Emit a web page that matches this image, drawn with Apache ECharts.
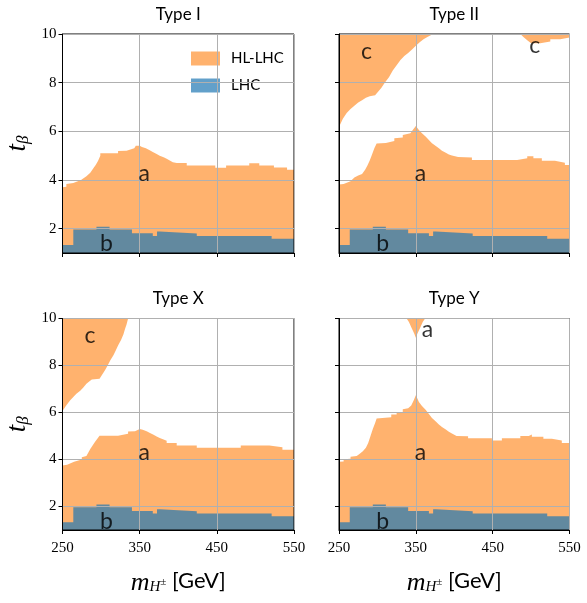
<!DOCTYPE html>
<html><head><meta charset="utf-8">
<script src="https://cdn.jsdelivr.net/npm/echarts@6/dist/echarts.min.js"></script>
<style>html,body{margin:0;padding:0;background:#fff}#c{width:587px;height:603px}</style>
</head><body><div id="c"></div>
<script>
// ---------- data ----------
const panelTitles = ['Type I', 'Type II', 'Type X', 'Type Y'];
const xTicks = [250, 350, 450, 550];
const yTicks = [2, 4, 6, 8, 10];
const legendNames = ['HL-LHC', 'LHC'];

// LHC (b) upper boundary, same in all panels
const lhcMass = [250,264,264,294,294,311,311,340,340,367,367,372.5,372.5,376,376,424,424,521,521,550];
const lhcTb   = [1.33,1.33,1.97,1.97,2.08,2.08,1.97,1.97,1.81,1.81,1.70,1.70,1.88,1.88,1.80,1.80,1.70,1.70,1.59,1.59];

// Type I, region a (HL-LHC), upper boundary
const t1aMass = [250,255,255,264,264,274,275,281,286,290,293,296,299,299,322,322,333,333,343,345,350,353,358,363,367,372,376,381,385,389,393,398,411,411,448,448,462,462,492,492,505,505,524,524,541,541,550];
const t1aTb   = [3.70,3.72,3.84,3.88,3.96,4.00,4.07,4.15,4.30,4.48,4.62,4.78,5.00,5.10,5.10,5.19,5.20,5.28,5.30,5.41,5.41,5.36,5.30,5.22,5.15,5.07,5.00,4.93,4.87,4.80,4.73,4.70,4.70,4.60,4.60,4.50,4.50,4.60,4.60,4.69,4.69,4.60,4.60,4.51,4.51,4.42,4.42];

// Type II, region a
const t2aMass = [250,256,256,265,270,275,280,284,287,290,293,296,299,311,311,322,322,333,333,343,346,350,354,358,363,367,371,376,380,384,389,393,397,405,423,423,482,482,495,495,503,503,514,514,531,531,544,544,550];
const t2aTb   = [3.82,3.84,3.92,3.95,4.10,4.18,4.25,4.42,4.60,4.80,5.05,5.30,5.50,5.52,5.58,5.60,5.72,5.75,5.85,5.92,6.05,6.22,6.05,5.92,5.78,5.64,5.51,5.40,5.30,5.20,5.12,5.05,5.01,4.95,4.92,4.82,4.82,4.89,4.89,4.98,4.98,4.89,4.89,4.79,4.79,4.71,4.71,4.62,4.62];
// Type II, region c (left, above the curve)
const t2cMass = [250,255,260,265,270,275,280,285,290,297,300,305,310,315,320,325,330,335,340,345,350,355,360,365,370,373];
const t2cTb   = [6.18,6.52,6.75,6.92,7.05,7.18,7.28,7.38,7.44,7.48,7.60,7.78,8.02,8.22,8.50,8.72,8.93,9.10,9.22,9.36,9.52,9.66,9.78,9.88,9.96,10.0];
// Type II, region c (right, above the curve)
const t2c2Mass = [486,490,495,500,512,512,525,525,538,538,550];
const t2c2Tb   = [10.0,9.88,9.74,9.62,9.62,9.69,9.69,9.78,9.78,9.86,9.86];

// Type X, region a
const tXaMass = [250,256,256,265,265,275,275,281,286,292,298,322,322,335,335,344,344,350,354,359,364,368,372,376,381,385,385,398,398,424,424,481,481,518,518,535,535,550];
const tXaTb   = [3.75,3.78,3.86,3.90,3.95,4.00,4.10,4.15,4.45,4.74,5.01,5.01,5.08,5.10,5.19,5.20,5.28,5.30,5.27,5.20,5.12,5.05,4.98,4.92,4.85,4.80,4.70,4.70,4.60,4.60,4.50,4.50,4.60,4.60,4.52,4.52,4.42,4.42];
// Type X, region c
const tXcMass = [250,255,260,264,268,273,277,281,285,288,298,300,303,306,309,312,316,319,322,326,329,331,333,335];
const tXcTb   = [6.06,6.31,6.52,6.66,6.80,6.93,7.06,7.22,7.33,7.40,7.44,7.52,7.69,7.85,8.03,8.22,8.44,8.64,8.85,9.10,9.33,9.55,9.74,10.0];

// Type Y, region a (main)
const tYaMass = [250,256,256,265,265,273,277,281,285,288,291,294,297,299,299,318,318,325,325,333,333,340,344,347,350,352,354,358,363,367,371,376,380,384,389,393,397,403,418,418,449,449,462,462,486,486,497,498,501,501,516,516,527,527,540,540,550];
const tYaTb   = [3.90,3.92,4.01,4.03,4.12,4.15,4.25,4.35,4.50,4.70,5.00,5.30,5.55,5.75,5.80,5.80,5.91,5.91,6.00,6.02,6.14,6.18,6.30,6.50,6.73,6.60,6.45,6.28,6.11,5.94,5.77,5.62,5.49,5.38,5.28,5.18,5.11,5.00,4.99,4.90,4.90,4.81,4.81,4.90,4.90,5.00,5.00,5.08,5.06,4.97,4.97,4.88,4.88,4.81,4.81,4.70,4.70];
// Type Y, region a (top wedge, above the curve)
const tYa2Mass = [338,341,344.5,348,350,352,355.5,359,362];
const tYa2Tb   = [10.0,9.85,9.60,9.35,9.18,9.35,9.60,9.85,10.0];

// region labels: [mass, tan beta, text]
const labelsI  = [[350, 4.0, 'a'], [300, 1.1, 'b']];
const labelsII = [[350, 4.0, 'a'], [300, 1.1, 'b'], [280, 9.0, 'c'], [499, 9.27, 'c']];
const labelsX  = [[350, 4.0, 'a'], [300, 1.1, 'b'], [280, 9.0, 'c']];
const labelsY  = [[350, 4.0, 'a'], [300, 1.1, 'b'], [359, 9.25, 'a']];

// ---------- styling ----------
const ORANGE = 'rgba(255,127,14,0.6)';
const BLUE = 'rgba(31,119,180,0.7)';
const NARROW = "Lato,'Liberation Sans Narrow',sans-serif";
const SERIF = "'Liberation Serif','DejaVu Serif',serif";

const grids = [
  {left: 62.5, top: 34, width: 231.5, height: 219},
  {left: 339, top: 34, width: 230.5, height: 219},
  {left: 62.5, top: 318.5, width: 231.5, height: 219},
  {left: 339, top: 318.5, width: 230.5, height: 219}
];

function zip(m, t) { return m.map((v, i) => [v, t[i]]); }

function areaSeries(g, name, mass, tb, color, origin) {
  return {
    type: 'line', name: name, xAxisIndex: g, yAxisIndex: g,
    data: zip(mass, tb), showSymbol: false, symbol: 'none',
    lineStyle: {width: 0, opacity: 0},
    itemStyle: {color: color},
    areaStyle: {color: color, opacity: 1, origin: origin},
    z: 2, silent: true
  };
}
function labelSeries(g, arr) {
  return {
    type: 'scatter', xAxisIndex: g, yAxisIndex: g, symbolSize: 0.1,
    itemStyle: {color: 'rgba(0,0,0,0)'}, z: 20, silent: true,
    data: arr,
    label: {show: true, position: [0, 0], align: 'left', verticalAlign: 'bottom', offset: [-1, 5],
      formatter: p => p.value[2], fontFamily: NARROW, fontSize: 23, color: '#000'}
  };
}

const series = [];
const orangeSets = [
  [[t1aMass, t1aTb, 'start']],
  [[t2aMass, t2aTb, 'start'], [t2cMass, t2cTb, 'end'], [t2c2Mass, t2c2Tb, 'end']],
  [[tXaMass, tXaTb, 'start'], [tXcMass, tXcTb, 'end']],
  [[tYaMass, tYaTb, 'start'], [tYa2Mass, tYa2Tb, 'end']]
];
orangeSets.forEach((sets, g) => {
  sets.forEach(s => series.push(areaSeries(g, 'HL-LHC', s[0], s[1], ORANGE, s[2])));
  series.push(areaSeries(g, 'LHC', lhcMass, lhcTb, BLUE, 'start'));
});
[labelsI, labelsII, labelsX, labelsY].forEach((arr, g) => series.push(labelSeries(g, arr)));

const xAxes = grids.map((_, g) => ({
  type: 'value', gridIndex: g, min: 250, max: 550, z: 10,
  axisLine: {show: true, onZero: false, lineStyle: {color: '#000', width: 1}},
  axisTick: {show: true, length: 4, lineStyle: {color: '#000'}, customValues: xTicks},
  axisLabel: {show: g >= 2, customValues: xTicks, margin: 11, fontFamily: SERIF, fontSize: 15, color: '#000'},
  splitLine: {show: true, lineStyle: {color: '#b0b0b0', width: 1}},
  name: g >= 2 ? '{m|m}{h|H}{pm|±}{g| [GeV]}' : '',
  nameLocation: 'middle', nameGap: 40,
  nameTextStyle: {rich: {
    m: {fontFamily: SERIF, fontStyle: 'italic', fontSize: 26, lineHeight: 25, verticalAlign: 'top', padding: [0, 0, 6, 0], color: '#000'},
    h: {fontFamily: SERIF, fontStyle: 'italic', fontSize: 15, lineHeight: 15, verticalAlign: 'bottom', color: '#000'},
    pm: {fontFamily: SERIF, fontSize: 11, lineHeight: 11, verticalAlign: 'middle', color: '#000'},
    g: {fontFamily: NARROW, fontSize: 22, lineHeight: 25, verticalAlign: 'top', color: '#000'}
  }}
}));
const yAxes = grids.map((_, g) => ({
  type: 'value', gridIndex: g, min: 1, max: 10, z: 10,
  axisLine: {show: true, onZero: false, lineStyle: {color: '#000', width: 1}},
  axisTick: {show: true, length: 4, lineStyle: {color: '#000'}, customValues: yTicks},
  axisLabel: {show: g % 2 === 0, customValues: yTicks, margin: 6, fontFamily: SERIF, fontSize: 15, color: '#000'},
  splitLine: {show: true, lineStyle: {color: '#b0b0b0', width: 1}},
  name: g % 2 === 0 ? '{t|t}{b|β}' : '',
  nameLocation: 'middle', nameRotate: 90, nameGap: 25,
  nameTextStyle: {rich: {
    t: {fontFamily: SERIF, fontStyle: 'italic', fontSize: 27, lineHeight: 27, verticalAlign: 'top', padding: [0, 0, 6, 0], color: '#000'},
    b: {fontFamily: SERIF, fontStyle: 'italic', fontSize: 17, lineHeight: 17, verticalAlign: 'bottom', color: '#000'}
  }}
}));

const option = {
  animation: false,
  backgroundColor: '#fff',
  title: grids.map((gr, g) => ({
    text: panelTitles[g], left: gr.left + gr.width / 2, top: gr.top - 28, textAlign: 'center', padding: 0,
    textStyle: {fontFamily: NARROW, fontSize: 17, fontWeight: 'normal', color: '#000'}
  })),
  legend: {
    show: true, left: 191, top: 51, padding: 0, orient: 'vertical', itemWidth: 29, itemHeight: 14, itemGap: 12,
    icon: 'rect', selectedMode: false,
    textStyle: {fontFamily: NARROW, fontSize: 15, color: '#000', padding: [0, 0, 0, 6]},
    data: [
      {name: legendNames[0], itemStyle: {color: ORANGE}},
      {name: legendNames[1], itemStyle: {color: BLUE}}
    ]
  },
  grid: grids.map(gr => Object.assign({show: true, z: 10, borderColor: '#000', borderWidth: 1, backgroundColor: 'rgba(0,0,0,0)'}, gr)),
  xAxis: xAxes,
  yAxis: yAxes,
  series: series
};
echarts.init(document.getElementById('c'), null, {renderer: 'canvas'}).setOption(option);
</script>
</body></html>
